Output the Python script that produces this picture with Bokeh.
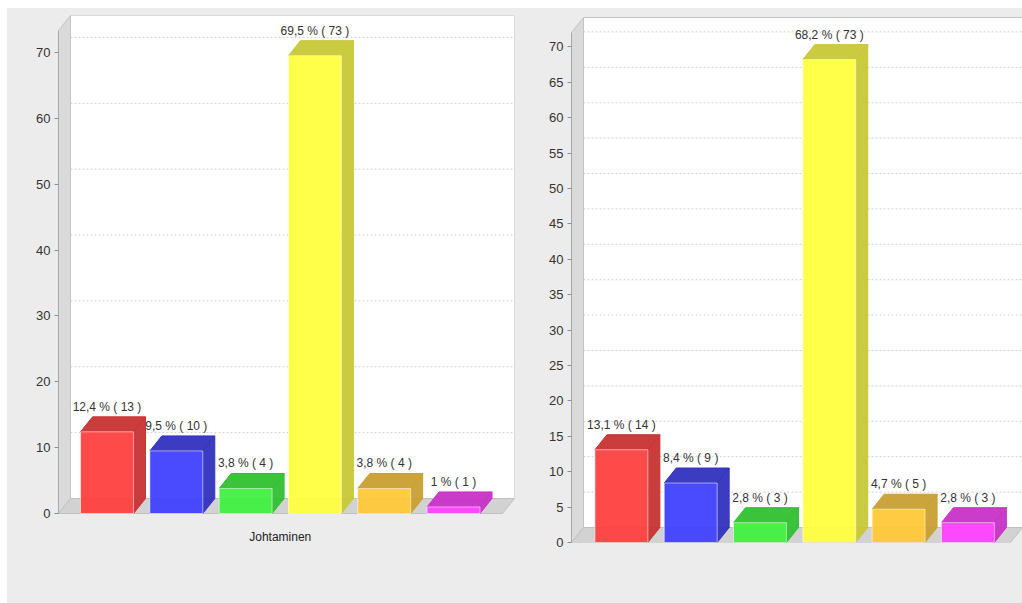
from bokeh.plotting import figure
from bokeh.layouts import row, column
from bokeh.models import Range1d, FixedTicker, ColumnDataSource, Spacer
from bokeh.embed import file_html
from bokeh.resources import INLINE
from bokeh.core.properties import value

# ---------------- data ----------------
category = "Johtaminen"
left_pct = [12.4, 9.5, 3.8, 69.5, 3.8, 1.0]
left_cnt = [13, 10, 4, 73, 4, 1]
right_pct = [13.1, 8.4, 2.8, 68.2, 4.7, 2.8]
right_cnt = [14, 9, 3, 73, 5, 3]
left_ticks = [0, 10, 20, 30, 40, 50, 60, 70]
right_ticks = [0, 5, 10, 15, 20, 25, 30, 35, 40, 45, 50, 55, 60, 65, 70]

# ---------------- style ----------------
front_colors = ["#ff4040", "#4040ff", "#40f040", "#ffff40", "#ffc838", "#ff40ff"]
dark_colors = ["#c83232", "#3232c0", "#30c030", "#c8c838", "#c8a030", "#c832c8"]
BG = "#ececec"
FONT = "Liberation Sans"
DX, DY = 12.0, 15.0  # 3D depth offset in pixels


def fmt_label(p, c):
    s = ("%g" % p).replace(".", ",")
    return "%s %% ( %d )" % (s, c)


def make_panel(pct, cnt, ticks, W, H, bl, br, bt, bb, x0, x1, ylo, yhi, wall_top, show_cat):
    fw = W - bl - br
    fh = H - bt - bb
    ppx = fw / (x1 - x0)
    ppy = fh / (yhi - ylo)
    dxu = DX / ppx
    dyu = DY / ppy
    yfront = wall_top - dyu

    p = figure(width=W, height=H, x_range=Range1d(x0, x1), y_range=Range1d(ylo, yhi),
               output_backend="svg", toolbar_location=None,
               min_border_left=bl, min_border_right=br, min_border_top=bt, min_border_bottom=bb)
    p.background_fill_color = BG
    p.border_fill_color = BG
    p.outline_line_color = None
    p.xgrid.grid_line_color = None
    p.ygrid.grid_line_color = None

    # back wall
    p.quad(left=[x0 + dxu], right=[x1], bottom=[dyu], top=[wall_top],
           fill_color="white", line_color="#c4c4c4", line_width=1)
    # grid lines on back wall
    gt = [t for t in ticks if t > 0]
    p.segment(x0=[x0 + dxu] * len(gt), y0=[t + dyu for t in gt],
              x1=[x1] * len(gt), y1=[t + dyu for t in gt],
              line_color="#d0d0d0", line_dash="2 2", line_width=1)
    # left wall
    p.patch([x0, x0 + dxu, x0 + dxu, x0], [0, dyu, wall_top, yfront],
            fill_color="#dadada", line_color="#c4c4c4", line_width=1)
    # floor
    p.patch([x0, x0 + dxu, x1, x1 - dxu], [0, dyu, dyu, 0],
            fill_color="#d2d2d2", line_color="#c0c0c0", line_width=1)

    xs = list(range(len(pct)))
    half = 0.382
    # side faces
    side_x = [[x + half, x + half + dxu, x + half + dxu, x + half] for x in xs]
    side_y = [[0, dyu, v + dyu, v] for v in pct]
    p.patches(side_x, side_y, fill_color=dark_colors, line_color=dark_colors, fill_alpha=0.95)
    # top faces
    top_x = [[x - half, x - half + dxu, x + half + dxu, x + half] for x in xs]
    top_y = [[v, v + dyu, v + dyu, v] for v in pct]
    p.patches(top_x, top_y, fill_color=dark_colors, line_color=dark_colors, fill_alpha=0.95)
    # front faces
    p.quad(left=[x - half for x in xs], right=[x + half for x in xs], bottom=0, top=pct,
           fill_color=front_colors, fill_alpha=0.95, line_color="white", line_alpha=0.55)

    # value labels
    src = ColumnDataSource(dict(x=xs, y=pct, t=[fmt_label(a, b) for a, b in zip(pct, cnt)]))
    p.text(x="x", y="y", text="t", source=src, text_align="center", text_baseline="bottom",
           y_offset=-(DY + 3), text_font=value(FONT), text_font_size="12px", text_color="#333333")

    # category label under the floor
    if show_cat:
        mid = (len(pct) - 1) / 2.0
        p.text(x=[mid], y=[0], text=[category], text_align="center", text_baseline="top",
               y_offset=16, text_font=value(FONT), text_font_size="12px", text_color="#222222")

    # y axis
    ya = p.yaxis[0]
    ya.ticker = FixedTicker(ticks=ticks)
    ya.bounds = (0, yfront)
    ya.axis_line_color = "#a8a8a8"
    ya.major_tick_line_color = "#909090"
    ya.major_tick_out = 4
    ya.major_tick_in = 0
    ya.minor_tick_line_color = None
    ya.major_label_text_font = FONT
    ya.major_label_text_font_size = "13px"
    ya.major_label_text_color = "#333333"
    ya.major_label_standoff = 4

    p.xaxis.visible = False
    return p


# both frames span page y 15..542 (borders are aligned in a row)
left = make_panel(left_pct, left_cnt, left_ticks, 513, 595, 51, 6, 7, 61,
                  -0.70, 5.88, -4.40, 75.6, 75.6, True)
right = make_panel(right_pct, right_cnt, right_ticks, 502, 595, 51, 0, 7, 61,
                   -0.72, 5.788, 0.0, 74.43, 74.15, False)

layout = column(Spacer(height=8),
                row(Spacer(width=7), row(left, right, styles={"background-color": BG})))
open("out.html", "w").write(file_html(layout, INLINE))
